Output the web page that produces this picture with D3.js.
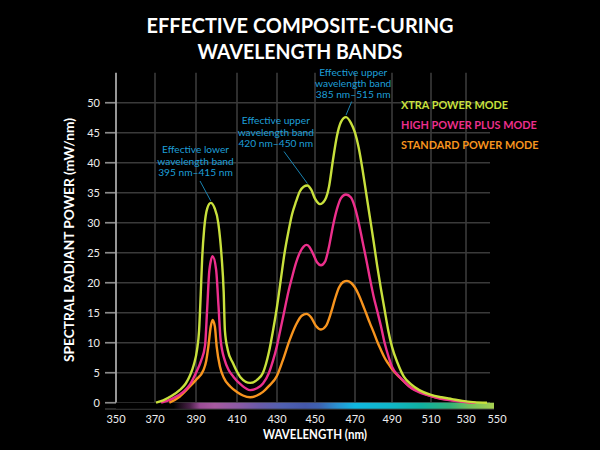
<!DOCTYPE html>
<html><head><meta charset="utf-8">
<script src="https://cdn.jsdelivr.net/npm/d3@7"></script>
<style>html,body{margin:0;padding:0;background:#000;}svg{display:block;}</style>
</head><body>
<svg id="chart" width="600" height="450"></svg>
<script>
// ---------- DATA ----------
const xTicks = [350,370,390,410,430,450,470,490,510,530,550];
const yTicks = [0,5,10,15,20,25,30,35,40,45,50];
const seriesNames = ["XTRA POWER MODE","HIGH POWER PLUS MODE","STANDARD POWER MODE"];
const seriesColors = ["#c8e03c","#ec2f8c","#f7941e"];
const xtraPower = [[370.5,0],[374,0.4],[378,1.1],[382,2.1],[385,3.2],[387,4.5],[389,6.4],[390.5,8.8],[391.5,12],[392.3,18],[393,24],[394,29],[395.5,32.4],[397.2,33.3],[399,32.5],[400.9,29.9],[402.5,24.3],[403.5,18.5],[404.1,12],[405.5,8.8],[408,6.6],[411.6,4.3],[416.6,3.3],[420,3.8],[423,5],[426,8.5],[428,12],[430,16],[432,20.5],[434,25],[436,28.5],[438,31.5],[440,33.5],[442,35.2],[444,36],[446,36.2],[448,35.5],[450,34],[452.5,33.1],[455,33.8],[457,36],[459,40.5],[461,44.5],[463,46.8],[465.5,47.6],[468,46.6],[470,45],[472,42.5],[474,39],[476,35],[478,31],[480,27],[482,22.8],[484,19],[486,15.5],[488,12],[490,9.3],[493,6.5],[496,4.4],[500,3],[504,2.1],[510,1.3],[516,0.9],[522,0.6],[528,0.3],[535,0.1],[545,0]];
const highPowerPlus = [[373,0],[378,0.6],[383.8,1.8],[387,3],[390.3,5.2],[392.5,7],[394.4,9.5],[395.5,16],[396.5,22],[398.1,24.4],[399.8,22.2],[401,16],[402,10.5],[404,7.1],[406,5.4],[408.3,4.3],[412,3],[416.6,2.1],[420,2.4],[423,3.2],[426,5],[428,7],[430,9.5],[432,12.5],[434,15.5],[436,18.5],[438,21],[440,23.3],[442,25],[444,26],[445.5,26.3],[447,26],[449,24.8],[451,23.4],[453,22.9],[455,23.5],[457,26],[459,29.5],[461,32.3],[463,34.1],[465.5,34.7],[468,34.2],[470,32.5],[472,30],[474,27],[476,24],[478,20.8],[480,17.8],[482,15.3],[484,12.8],[486,10],[488,7.8],[490,6],[493,4.6],[496,3.6],[500,2.4],[505,1.6],[510,1.1],[515,0.7],[521,0.4],[528,0.15],[537,0]];
const standardPower = [[377,0],[382,1],[387,2.7],[390,3.8],[393.6,5.4],[395,7],[396,9.3],[397.2,12.7],[398.1,13.8],[399.2,12.7],[400.1,9.3],[401.7,6],[403.5,4.2],[406.7,2.7],[410,1.8],[413,1.2],[416.6,0.9],[420,1.2],[423,1.8],[426,2.8],[430,4.5],[433,7],[436.5,10.3],[440,13],[443,14.5],[445.5,14.8],[448,14.2],[450.5,12.8],[453,12.2],[455.5,12.8],[458,15],[460,17.3],[462,19.2],[464,20.1],[466,20.3],[468,20],[470,19.2],[472,18],[474,16.5],[476,14.9],[478,13.3],[480,11.8],[482,10.2],[484,8.8],[486,7.5],[488,6.5],[490,5.6],[494,4.2],[499,2.7],[505,1.7],[511,1],[518,0.6],[526,0.3],[533,0]];
const spectrumStops = [[350,"#000000"],[379,"#000000"],[387,"#4a2048"],[392,"#9a4c95"],[399,"#a75aa0"],[411,"#8a5aa5"],[421,"#6a5aa8"],[433,"#5060b0"],[445,"#4458aa"],[452,"#3e62b0"],[461,"#2a90d0"],[470,"#10b8e0"],[489,"#10b6c8"],[505,"#10b0a0"],[521,"#30b078"],[532,"#70c060"],[550,"#a8d050"]];
const annotations = [
  {lines:["Effective lower","wavelength band","395 nm\u2013415 nm"], target:[397.2,33.3]},
  {lines:["Effective upper","wavelength band","420 nm\u2013450 nm"], target:[446,36.2]},
  {lines:["Effective upper","wavelength band","385 nm\u2013515 nm"], target:[465.5,47.6]}
];
const titleLines = ["EFFECTIVE COMPOSITE-CURING","WAVELENGTH BANDS"];

// ---------- LAYOUT ----------
const svg = d3.select("#chart");
const FONT = "Lato, 'Open Sans', sans-serif";
const x = d3.scaleLinear().domain(xTicks).range([116,155,196,237,277,315,355,392,431,466,494]);
const y = d3.scaleLinear().domain([0,55]).range([402.7,72.7]);
const gridRight = 490;

svg.append("rect").attr("width",600).attr("height",450).attr("fill","#000");

// gridlines
const grid = svg.append("g");
grid.selectAll("line.h").data(yTicks).join("line")
  .attr("x1",105).attr("x2",gridRight)
  .attr("y1",d=>y(d)).attr("y2",d=>y(d))
  .attr("stroke","#3a3a3a").attr("stroke-width",1.6);
grid.selectAll("line.tk").data(yTicks).join("line")
  .attr("x1",105).attr("x2",116)
  .attr("y1",d=>y(d)).attr("y2",d=>y(d))
  .attr("stroke","#8a8a8a").attr("stroke-width",1.6);
grid.selectAll("line.v").data(xTicks.slice(1,-1)).join("line")
  .attr("x1",d=>x(d)).attr("x2",d=>x(d))
  .attr("y1",y(55)).attr("y2",y(0))
  .attr("stroke","#3a3a3a").attr("stroke-width",1.6);
// y axis line
svg.append("line").attr("x1",x(350)).attr("x2",x(350)).attr("y1",y(55)).attr("y2",y(0))
  .attr("stroke","#a8a8a8").attr("stroke-width",1.8);

// y tick labels
svg.append("g").selectAll("text").data(yTicks).join("text")
  .attr("x",100).attr("y",d=>y(d)).attr("dy","0.35em")
  .attr("text-anchor","end").attr("fill","#eeeeee")
  .attr("font-family",FONT).attr("font-size",11).text(d=>d);

// spectrum bar
const defs = svg.append("defs");
const grad = defs.append("linearGradient").attr("id","spec")
  .attr("gradientUnits","userSpaceOnUse")
  .attr("x1",x(350)).attr("x2",x(550)).attr("y1",0).attr("y2",0);
grad.selectAll("stop").data(spectrumStops).join("stop")
  .attr("offset",d=>(x(d[0])-x(350))/(x(550)-x(350)))
  .attr("stop-color",d=>d[1]);
svg.append("line").attr("x1",105).attr("x2",x(550)).attr("y1",409).attr("y2",409)
  .attr("stroke","#555").attr("stroke-width",1.2);
svg.append("rect").attr("x",x(350)).attr("y",y(0)).attr("width",x(550)-x(350)).attr("height",6)
  .attr("fill","url(#spec)");

// x tick labels
svg.append("g").selectAll("text").data(xTicks).join("text")
  .attr("x",d=>d===550?x(d)+3:x(d)).attr("y",422.5)
  .attr("text-anchor","middle").attr("fill","#eeeeee")
  .attr("font-family",FONT).attr("font-size",11).text(d=>d);

// curves
const line = d3.line().x(d=>x(d[0])).y(d=>y(d[1])).curve(d3.curveMonotoneX);
const allSeries = [standardPower, highPowerPlus, xtraPower];
const allColors = [seriesColors[2], seriesColors[1], seriesColors[0]];
svg.append("g").selectAll("path").data(allSeries).join("path")
  .attr("d",line).attr("fill","none")
  .attr("stroke",(d,i)=>allColors[i]).attr("stroke-width",2.4)
  .attr("stroke-linejoin","round");

// annotations
const annPos = [[195.5,153.3],[275.8,124.3],[353.2,75.7]];
const annStart = [[200,181],[284,151.5],[351.7,101.5]];
annotations.forEach((a,i)=>{
  const g = svg.append("g");
  g.selectAll("text").data(a.lines).join("text")
    .attr("x",annPos[i][0]).attr("y",(d,j)=>annPos[i][1]+j*11.2)
    .attr("text-anchor","middle").attr("fill","#1e9fd8")
    .attr("font-family",FONT).attr("font-size",10.2).text(d=>d);
  g.append("line").attr("x1",annStart[i][0]).attr("y1",annStart[i][1])
    .attr("x2",x(a.target[0])).attr("y2",y(a.target[1])-2)
    .attr("stroke","#1a82b0").attr("stroke-width",1);
});

// legend
svg.append("g").selectAll("text").data(seriesNames).join("text")
  .attr("x",401).attr("y",(d,i)=>109+i*20)
  .attr("fill",(d,i)=>seriesColors[i])
  .attr("font-family",FONT).attr("font-weight",700).attr("font-size",10.9)
  .text(d=>d);

// titles
const tw = [307,205];
svg.append("g").selectAll("text").data(titleLines).join("text")
  .attr("x",300).attr("y",(d,i)=>32.5+i*26)
  .attr("text-anchor","middle").attr("fill","#ffffff")
  .attr("font-family",FONT).attr("font-weight",700).attr("font-size",21.5)
  .attr("textLength",(d,i)=>tw[i]).attr("lengthAdjust","spacingAndGlyphs")
  .text(d=>d);

svg.append("text").attr("transform","translate(73.5,240) rotate(-90)")
  .attr("text-anchor","middle").attr("fill","#ffffff")
  .attr("font-family",FONT).attr("font-weight",700).attr("font-size",13.5)
  .attr("textLength",244).attr("lengthAdjust","spacingAndGlyphs")
  .text("SPECTRAL RADIANT POWER (mW/nm)");
svg.append("text").attr("x",315).attr("y",439)
  .attr("text-anchor","middle").attr("fill","#ffffff")
  .attr("font-family",FONT).attr("font-weight",700).attr("font-size",13)
  .attr("textLength",104).attr("lengthAdjust","spacingAndGlyphs")
  .text("WAVELENGTH (nm)");
</script>
</body></html>
